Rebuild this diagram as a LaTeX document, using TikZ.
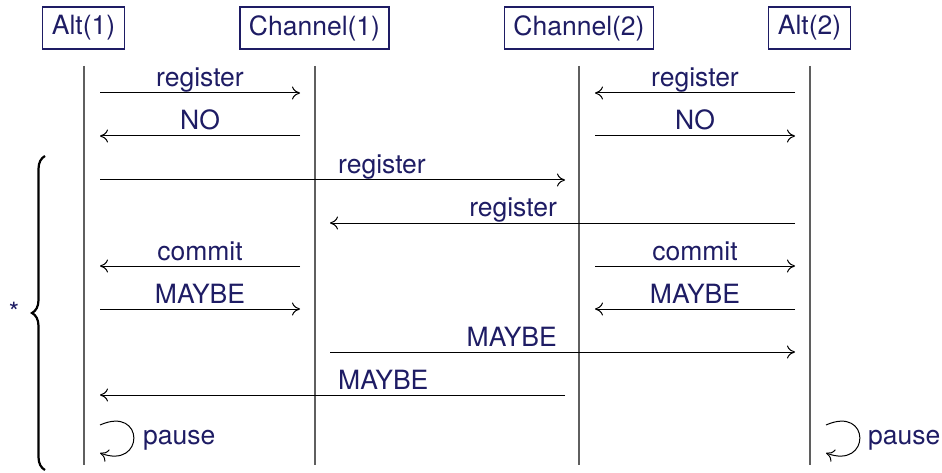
\documentclass[tikz,border=0pt]{standalone}
\usepackage{fontspec}
\setmainfont{TeX Gyre Heros}
\usetikzlibrary{decorations.pathreplacing,calc,arrows.meta}
\definecolor{txt}{RGB}{30,28,100}
\definecolor{life}{RGB}{95,95,95}
\begin{document}
\begin{tikzpicture}[x=1pt,y=-1pt,
  font=\fontsize{26.5}{30}\selectfont,
  actor/.style={draw=txt, text=txt, line width=1.1pt, inner xsep=9pt, inner ysep=0pt, minimum height=42pt},
  lifeline/.style={draw=life, line width=1.4pt},
  msg/.style={-{To[length=8pt,width=13pt]}, line width=1pt},
  lbl/.style={text=txt, anchor=base, inner sep=0pt}]
\useasboundingbox (0,0) rectangle (942,473);
% actors
\node[actor] (A1) at (83.5,28) {Alt(1)};
\node[actor] (C1) at (314.5,28) {Channel(1)};
\node[actor] (C2) at (579,28) {Channel(2)};
\node[actor] (A2) at (809.5,28) {Alt(2)};
% lifeline x positions and rows
\coordinate (L1) at (84,0);
\coordinate (L2) at (315,0);
\coordinate (L3) at (579,0);
\coordinate (L4) at (810,0);
\coordinate (top) at (0,66);
\coordinate (bot) at (0,465);
\coordinate (r1) at (0,93);
\coordinate (r2) at (0,136);
\coordinate (r3) at (0,180);
\coordinate (r4) at (0,223);
\coordinate (r5) at (0,266);
\coordinate (r6) at (0,309);
\coordinate (r7) at (0,352);
\coordinate (r8) at (0,395);
\coordinate (r9) at (0,438);
% lifelines
\foreach \L in {L1,L2,L3,L4}{
  \draw[lifeline] (\L|-top) -- (\L|-bot);
}
% left pair
\draw[msg] ($(L1|-r1)+(16,0)$) -- ($(L2|-r1)+(-15,0)$) node[lbl, pos=0.5, yshift=6pt] {register};
\draw[msg] ($(L2|-r2)+(-15,0)$) -- ($(L1|-r2)+(16,0)$) node[lbl, pos=0.5, yshift=6pt] {NO};
% right pair
\draw[msg] ($(L4|-r1)+(-15,0)$) -- ($(L3|-r1)+(16,0)$) node[lbl, pos=0.5, yshift=6pt] {register};
\draw[msg] ($(L3|-r2)+(16,0)$) -- ($(L4|-r2)+(-15,0)$) node[lbl, pos=0.5, yshift=6pt] {NO};
% long registers
\draw[msg] ($(L1|-r3)+(16,0)$) -- ($(L3|-r3)+(-14,0)$);
\node[lbl, anchor=base west] (lr1) at ($(L2|-r3)+(23,-6)$) {register};
\draw[msg] ($(L4|-r4)+(-15,0)$) -- ($(L2|-r4)+(15,0)$);
\node[lbl, anchor=base east] (lr2) at ($(L3|-r4)+(-22,-6)$) {register};
% commit
\draw[msg] ($(L2|-r5)+(-15,0)$) -- ($(L1|-r5)+(16,0)$) node[lbl, pos=0.5, yshift=6pt] {commit};
\draw[msg] ($(L3|-r5)+(16,0)$) -- ($(L4|-r5)+(-15,0)$) node[lbl, pos=0.5, yshift=6pt] {commit};
% MAYBE
\draw[msg] ($(L1|-r6)+(16,0)$) -- ($(L2|-r6)+(-15,0)$) node[lbl, pos=0.5, yshift=6pt] {MAYBE};
\draw[msg] ($(L4|-r6)+(-15,0)$) -- ($(L3|-r6)+(16,0)$) node[lbl, pos=0.5, yshift=6pt] {MAYBE};
\draw[msg] ($(L2|-r7)+(15,0)$) -- ($(L4|-r7)+(-15,0)$);
\node[lbl, anchor=base east] (lm1) at ($(L3|-r7)+(-22,-6)$) {MAYBE};
\draw[msg] ($(L3|-r8)+(-14,0)$) -- ($(L1|-r8)+(16,0)$);
\node[lbl, anchor=base west] (lm2) at ($(L2|-r8)+(23,-6)$) {MAYBE};
% pause loops
\draw[msg] ($(L1|-r9)+(16,-13)$) .. controls +(45,-20) and +(45,17) .. ($(L1|-r9)+(16,15)$);
\node[lbl, anchor=base west] (p1) at ($(L1|-r9)+(59,6)$) {pause};
\draw[msg] ($(L4|-r9)+(16,-13)$) .. controls +(45,-20) and +(45,17) .. ($(L4|-r9)+(16,15)$);
\node[lbl, anchor=base west] (p2) at ($(L4|-r9)+(58,6)$) {pause};
% brace and star
\draw[decorate, decoration={brace, amplitude=13pt}, line width=2.2pt] (45,470) -- (45,156);
\node[lbl] (star) at (14,321) {*};
\end{tikzpicture}
\end{document}
